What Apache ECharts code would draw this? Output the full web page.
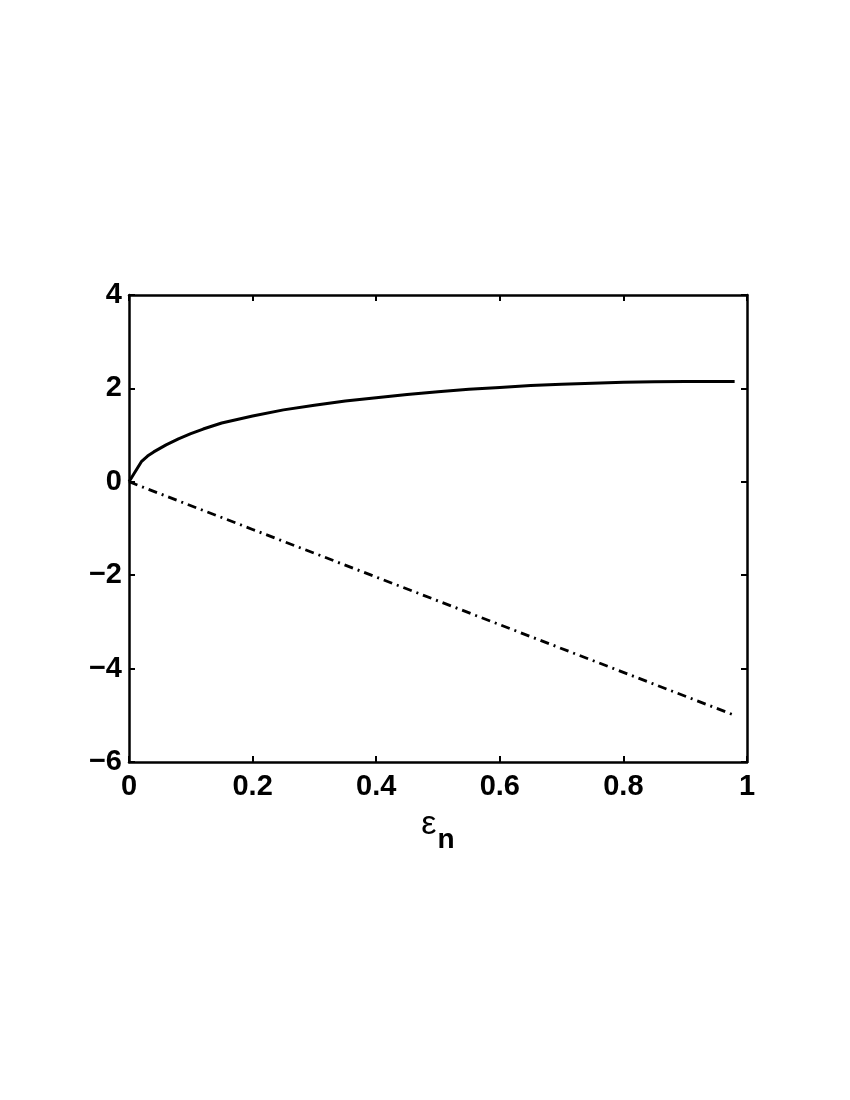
<!DOCTYPE html>
<html>
<head>
<meta charset="utf-8">
<script src="https://cdn.jsdelivr.net/npm/echarts@6/dist/echarts.min.js"></script>
<style>
  html, body { margin: 0; padding: 0; background: #fff; }
  #chart { width: 850px; height: 1100px; }
</style>
</head>
<body>
<div id="chart"></div>
<script>
// values
var upperX = [0, 0.02, 0.03, 0.04, 0.06, 0.08, 0.1, 0.12, 0.15, 0.2, 0.25, 0.3, 0.35, 0.4, 0.45, 0.5, 0.55, 0.6, 0.65, 0.7, 0.75, 0.8, 0.85, 0.9, 0.95, 0.98]
var upperY = [0, 0.43, 0.55, 0.64, 0.79, 0.92, 1.03, 1.13, 1.26, 1.41, 1.54, 1.64, 1.73, 1.80, 1.87, 1.93, 1.98, 2.02, 2.06, 2.09, 2.11, 2.13, 2.14, 2.15, 2.15, 2.15]
var lowerX = [0, 0.2, 0.4, 0.6, 0.8, 0.98]
var lowerY = [0, -1.02, -2.04, -3.06, -4.08, -5.0]
var xTicks = [0, 0.2, 0.4, 0.6, 0.8, 1]
var yTicks = [-6, -4, -2, 0, 2, 4]

function pairs(xs, ys) {
  return xs.map(function (x, i) { return [x, ys[i]] })
}

var font = 'Liberation Sans, Arial, Helvetica, sans-serif'
var axisLine = { show: true, onZero: false, lineStyle: { color: '#000', width: 2.5 } }
var axisTick = { show: true, inside: true, length: 6, lineStyle: { color: '#000', width: 2 } }
var tickLabel = {
  color: '#000', fontFamily: font, fontWeight: 'bold', fontSize: 29,
  formatter: function (v) { return String(v).replace('-', '\u2212') }
}

var chart = echarts.init(document.getElementById('chart'))
chart.setOption({
  backgroundColor: '#fff',
  animation: false,
  grid: { left: 129, top: 295, right: 103, bottom: 338 },
  xAxis: [
    {
      type: 'value', min: xTicks[0], max: xTicks[xTicks.length - 1], interval: 0.2,
      position: 'bottom',
      axisLine: axisLine, axisTick: axisTick, splitLine: { show: false },
      axisLabel: Object.assign({ margin: 10 }, tickLabel),
      name: '{e|\u03b5}{n|n}', nameLocation: 'middle', nameGap: 46,
      nameTextStyle: {
        rich: {
          e: { fontFamily: font, fontSize: 34, color: '#000', verticalAlign: 'bottom', padding: [0, 1, 12, 0] },
          n: { fontFamily: font, fontWeight: 'bold', fontSize: 28, color: '#000', verticalAlign: 'bottom' }
        }
      }
    },
    {
      type: 'value', min: 0, max: 1, interval: 0.2, position: 'top',
      axisLine: axisLine, axisTick: axisTick, axisLabel: { show: false }, splitLine: { show: false }
    }
  ],
  yAxis: [
    {
      type: 'value', min: yTicks[0], max: yTicks[yTicks.length - 1], interval: 2,
      position: 'left',
      axisLine: axisLine, axisTick: axisTick, splitLine: { show: false },
      axisLabel: Object.assign({ margin: 7 }, tickLabel)
    },
    {
      type: 'value', min: -6, max: 4, interval: 2, position: 'right',
      axisLine: axisLine, axisTick: axisTick, axisLabel: { show: false }, splitLine: { show: false }
    }
  ],
  series: [
    {
      type: 'line', data: pairs(upperX, upperY), showSymbol: false,
      lineStyle: { color: '#000', width: 3 }
    },
    {
      type: 'line', data: pairs(lowerX, lowerY), showSymbol: false,
      lineStyle: { color: '#000', width: 2.8, type: [9, 5, 2, 5] }
    }
  ]
})
</script>
</body>
</html>
